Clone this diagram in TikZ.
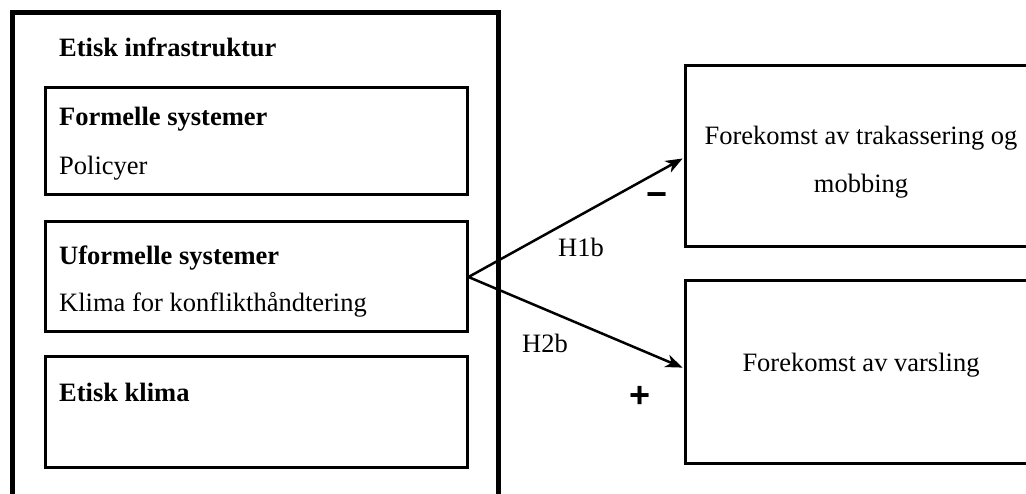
\documentclass[tikz,border=0pt]{standalone}
\usepackage{fontspec}
\setmainfont{Liberation Serif}
\newfontfamily\signfont{Liberation Sans}
\usetikzlibrary{arrows.meta}
\begin{document}
\begin{tikzpicture}[x=1pt,y=-1pt,
  txt/.style={anchor=base west,inner sep=0pt,font=\fontsize{26.5}{49}\selectfont},
  ctxt/.style={anchor=base,inner sep=0pt,font=\fontsize{26.5}{49}\selectfont},
  outerbox/.style={draw,line width=5pt,minimum width=486pt,minimum height=507pt,inner sep=0pt},
  innerbox/.style={draw,line width=3pt,minimum width=422pt,inner sep=0pt},
  resultbox/.style={draw,line width=3pt,minimum width=355pt,inner sep=0pt},
  link/.style={line width=2.5pt,-{Stealth[length=17pt,width=13pt,inset=5pt]},shorten >=1pt},
  sign/.style={inner sep=0pt,font=\signfont\bfseries\fontsize{36}{36}\selectfont}]
\useasboundingbox (0,0) rectangle (1026,494);
\begin{scope}
\clip (0,0) rectangle (1026,494);
% ethical infrastructure and its three subsystems
\node[outerbox] (infra) at (255,266.5) {};
\node[innerbox,minimum height=107pt] (formal) at (256,141.5) {};
\node[innerbox,minimum height=110pt] (informal) at (256,277) {};
\node[innerbox,minimum height=110pt] (climate) at (256,412) {};
% outcome boxes
\node[resultbox,minimum height=181pt] (bully) at (862.5,156.5) {};
\node[resultbox,minimum height=182pt] (whistle) at (862.5,372) {};
\end{scope}
\node[txt] (tinfra) at (59,57) {\bfseries Etisk infrastruktur};
\node[txt] (tformal) at (59,126) {\bfseries Formelle systemer};
\node[txt] (tpolicy) at (59,175) {Policyer};
\node[txt] (tinformal) at (59,265) {\bfseries Uformelle systemer};
\node[txt] (tconflict) at (59,312) {Klima for konflikthåndtering};
\node[txt] (tclimate) at (59,402) {\bfseries Etisk klima};
\node[ctxt] (tbully1) at (861,145) {Forekomst av trakassering og};
\node[ctxt] (tbully2) at (861,193) {mobbing};
\node[ctxt] (twhistle) at (861,372) {Forekomst av varsling};
% hypothesised effects
\draw[link] (informal.east) -- ([yshift=-1.5pt]bully.west);
\draw[link] (informal.east) -- ([yshift=4pt]whistle.west);
\node[txt] (h1b) at (558,257) {H1b};
\node[txt] (h2b) at (522,353) {H2b};
\node[sign] (minus) at (657,200) {\char"2212};
\node[sign] (plus) at (640,397) {+};
\end{tikzpicture}
\end{document}
